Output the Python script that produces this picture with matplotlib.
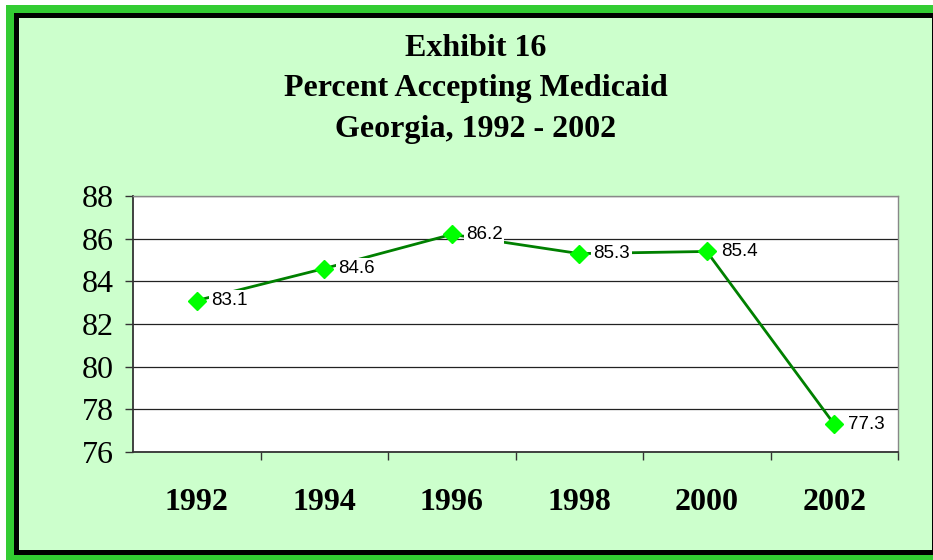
import matplotlib
matplotlib.use("Agg")
import matplotlib.pyplot as plt
from matplotlib.patches import Rectangle

years = ["1992", "1994", "1996", "1998", "2000", "2002"]
values = [83.1, 84.6, 86.2, 85.3, 85.4, 77.3]
yticks = [76, 78, 80, 82, 84, 86, 88]
title_lines = ["Exhibit 16", "Percent Accepting Medicaid", "Georgia, 1992 - 2002"]

W, H = 933, 560
fig = plt.figure(figsize=(W / 100, H / 100), dpi=100)
fig.patch.set_facecolor("white")

def px_rect(x0, y0, x1, y1, color, z):
    fig.patches.append(Rectangle((x0 / W, 1 - y1 / H), (x1 - x0) / W, (y1 - y0) / H,
                                 transform=fig.transFigure, facecolor=color,
                                 edgecolor="none", zorder=z))

# borders
px_rect(6, 5, W + 10, H + 10, "#33cc33", -3)
px_rect(14, 13, W + 10, 555, "#000000", -2)
px_rect(19, 18, 932, 550, "#ccffcc", -1)

ax = fig.add_axes([133 / W, 1 - 452 / H, (898 - 133) / W, (452 - 196) / H])
ax.set_facecolor("white")
x = list(range(len(years)))
ax.plot(x, values, color="#008000", lw=2, zorder=3,
        marker="D", markersize=9.5, markerfacecolor="#00ff00",
        markeredgecolor="#00ff00")
for xi, v in zip(x, values):
    ax.annotate(f"{v}", (xi, v), xytext=(14, 0), textcoords="offset pixels",
                ha="left", va="center", fontsize=13.5, family="Liberation Sans",
                zorder=5,
                bbox=dict(boxstyle="square,pad=0.1", facecolor="white",
                          edgecolor="none"))

ax.set_xlim(-0.5, len(years) - 0.5)
ax.set_ylim(76, 88)
ax.set_yticks(yticks)
ax.set_yticklabels([str(t) for t in yticks], family="Liberation Serif", fontsize=23)
ax.yaxis.grid(True, color="#222222", lw=0.9)
ax.set_axisbelow(True)
ax.tick_params(axis="y", direction="out", length=6, width=1, color="#333333", pad=8)

ax.set_xticks(x)
ax.set_xticklabels(years, family="Liberation Serif", fontsize=23, fontweight="bold")
ax.set_xticks([i + 0.5 for i in x], minor=True)
ax.tick_params(axis="x", which="major", length=0, pad=26)
ax.tick_params(axis="x", which="minor", direction="out", length=6, width=1, color="#333333")

for s in ["top", "right"]:
    ax.spines[s].set_color("#888888")
    ax.spines[s].set_linewidth(1)
for s in ["left", "bottom"]:
    ax.spines[s].set_color("#333333")
    ax.spines[s].set_linewidth(1.3)

for i, line in enumerate(title_lines):
    fig.text(476 / W, 1 - (48 + 40.5 * i) / H, line, ha="center", va="center",
             family="Liberation Serif", fontsize=23, fontweight="bold")

fig.savefig("out.png", dpi=100, facecolor=fig.get_facecolor())
